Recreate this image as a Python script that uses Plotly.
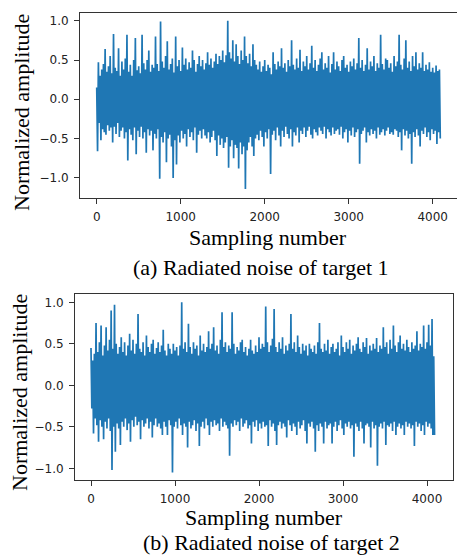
import plotly.graph_objects as go

# ---- data: alternating crests / troughs every 10 samples ----
STEP = 10  # sampling-number spacing between consecutive listed values

t1_crests = [
    0.15, 0.47, 0.30, 0.38, 0.45, 0.64, 0.35, 0.42, 0.55, 0.33,
    0.83, 0.40, 0.36, 0.65, 0.30, 0.48, 0.38, 0.52, 0.82, 0.35,
    0.44, 0.30, 0.50, 0.78, 0.37, 0.42, 0.33, 0.82, 0.46, 0.38,
    0.50, 0.62, 0.35, 0.44, 0.40, 0.80, 0.45, 0.36, 0.99, 0.48,
    0.40, 0.55, 0.74, 0.38, 0.45, 0.52, 0.34, 0.80, 0.42, 0.50,
    0.36, 0.66, 0.44, 0.52, 0.38, 0.47, 0.40, 0.62, 0.50, 0.35,
    0.45, 0.55, 0.42, 0.50, 0.38, 0.46, 0.60, 0.44, 0.52, 0.40,
    0.48, 0.58, 0.45, 0.55, 0.50, 0.62, 0.47, 0.56, 1.00, 0.60,
    0.52, 0.75, 0.48, 0.70, 0.55, 0.45, 0.62, 0.50, 0.80, 0.55,
    0.46, 0.58, 0.42, 0.70, 0.50, 0.44, 0.38, 0.48, 0.35, 0.42,
    0.50, 0.36, 0.44, 0.40, 0.32, 0.60, 0.45, 0.38, 0.48, 0.42,
    0.65, 0.40, 0.46, 0.35, 0.50, 0.42, 0.75, 0.44, 0.38, 0.52,
    0.40, 0.63, 0.36, 0.48, 0.42, 0.55, 0.38, 0.46, 0.68, 0.40,
    0.50, 0.36, 0.44, 0.52, 0.60, 0.38, 0.46, 0.40, 0.55, 0.34,
    0.45, 0.60, 0.38, 0.48, 0.42, 0.36, 0.50, 0.55, 0.40, 0.44,
    0.35, 0.48, 0.42, 0.52, 0.38, 0.46, 0.78, 0.40, 0.50, 0.36,
    0.44, 0.65, 0.38, 0.48, 0.42, 0.55, 0.36, 0.46, 0.40, 0.82,
    0.45, 0.38, 0.52, 0.50, 0.40, 0.46, 0.35, 0.55, 0.42, 0.48,
    0.82, 0.44, 0.38, 0.52, 0.75, 0.40, 0.48, 0.36, 0.55, 0.42,
    0.60, 0.38, 0.46, 0.40, 0.60, 0.36, 0.44, 0.38, 0.47, 0.35,
    0.40, 0.34, 0.43, 0.36, 0.38,
]
t1_troughs = [
    -0.66, -0.30, -0.52, -0.38, -0.42, -0.45, -0.33, -0.40, -0.36, -0.55,
    -0.35, -0.44, -0.30, -0.48, -0.40, -0.36, -0.50, -0.42, -0.78, -0.38,
    -0.45, -0.52, -0.36, -0.70, -0.40, -0.48, -0.35, -0.50, -0.42, -0.68,
    -0.38, -0.46, -0.40, -0.65, -0.44, -0.50, -0.38, -1.01, -0.48, -0.55,
    -0.42, -0.80, -0.50, -0.45, -0.60, -1.00, -0.52, -0.83, -0.46, -0.55,
    -0.40, -0.50, -0.44, -0.60, -0.38, -0.48, -0.42, -0.52, -0.36, -0.68,
    -0.45, -0.40, -0.50, -0.38, -0.46, -0.50, -0.42, -0.55, -0.48, -0.40,
    -0.52, -0.72, -0.46, -0.58, -0.50, -0.62, -0.55, -0.48, -0.87, -0.60,
    -0.52, -0.75, -0.58, -0.62, -0.88, -0.55, -0.70, -0.60, -1.14, -0.65,
    -0.55, -0.48, -0.60, -0.72, -0.50, -0.45, -0.52, -0.40, -0.48, -0.60,
    -0.42, -0.50, -0.38, -0.95, -0.45, -0.40, -0.52, -0.36, -0.46, -0.60,
    -0.40, -0.48, -0.35, -0.44, -0.50, -0.38, -0.60, -0.42, -0.46, -0.36,
    -0.55, -0.40, -0.44, -0.36, -0.48, -0.40, -0.35, -0.45, -0.50, -0.38,
    -0.42, -0.46, -0.36, -0.40, -0.44, -0.35, -0.50, -0.38, -0.42, -0.46,
    -0.36, -0.44, -0.40, -0.38, -0.45, -0.35, -0.50, -0.42, -0.38, -0.55,
    -0.40, -0.46, -0.36, -0.48, -0.42, -0.38, -0.82, -0.44, -0.40, -0.36,
    -0.55, -0.42, -0.46, -0.38, -0.44, -0.40, -0.50, -0.36, -0.45, -0.42,
    -0.38, -0.46, -0.40, -0.36, -0.44, -0.42, -0.45, -0.38, -0.40, -0.48,
    -0.42, -0.65, -0.38, -0.46, -0.40, -0.50, -0.44, -0.82, -0.42, -0.48,
    -0.38, -0.46, -0.60, -0.40, -0.44, -0.36, -0.48, -0.42, -0.52, -0.38,
    -0.44, -0.40, -0.57, -0.42, -0.50,
]
t2_crests = [
    0.45, 0.30, 0.38, 0.75, 0.40, 0.52, 0.72, 0.36, 0.48, 0.70,
    0.42, 0.55, 0.90, 0.44, 0.97, 0.50, 0.38, 0.46, 0.58, 0.40,
    0.52, 0.36, 0.48, 0.62, 0.42, 0.55, 0.38, 0.50, 0.86, 0.44,
    0.40, 0.52, 0.36, 0.60, 0.46, 0.40, 0.50, 0.55, 0.38, 0.45,
    0.52, 0.40, 0.48, 0.67, 0.42, 0.36, 0.50, 0.44, 0.38, 0.50,
    0.42, 0.46, 0.36, 0.48, 1.00, 0.44, 0.52, 0.40, 0.74, 0.46,
    0.38, 0.52, 0.44, 0.48, 0.36, 0.60, 0.42, 0.50, 0.40, 0.46,
    0.65, 0.44, 0.50, 0.70, 0.42, 0.48, 0.38, 0.55, 0.88, 0.46,
    0.52, 0.40, 0.48, 0.44, 0.88, 0.50, 0.38, 0.46, 0.42, 0.52,
    0.55, 0.40, 0.46, 0.36, 0.44, 0.55, 0.42, 0.38, 0.48, 0.40,
    0.58, 0.44, 0.50, 0.46, 0.95, 0.52, 0.40, 0.48, 0.56, 0.92,
    0.46, 0.40, 0.52, 0.44, 0.58, 0.38, 0.48, 0.42, 0.50, 0.86,
    0.44, 0.52, 0.40, 0.60, 0.46, 0.38, 0.50, 0.42, 0.48, 0.36,
    0.50, 0.44, 0.40, 0.48, 0.38, 0.52, 0.75, 0.44, 0.40, 0.50,
    0.42, 0.55, 0.38, 0.46, 0.50, 0.40, 0.44, 0.52, 0.36, 0.60,
    0.46, 0.40, 0.52, 0.44, 0.55, 0.38, 0.48, 0.42, 0.50, 0.58,
    0.44, 0.40, 0.52, 0.46, 0.57, 0.38, 0.48, 0.42, 0.50, 0.44,
    0.57, 0.40, 0.48, 0.44, 0.70, 0.46, 0.52, 0.38, 0.55, 0.44,
    0.72, 0.48, 0.40, 0.52, 0.60, 0.44, 0.50, 0.42, 0.55, 0.46,
    0.40, 0.52, 0.44, 0.48, 0.65, 0.42, 0.50, 0.46, 0.72, 0.44,
    0.52, 0.73, 0.48, 0.80, 0.35,
]
t2_troughs = [
    -0.28, -0.58, -0.40, -0.48, -0.68, -0.42, -0.50, -0.65, -0.44, -0.52,
    -0.40, -0.55, -1.02, -0.50, -0.80, -0.46, -0.52, -0.72, -0.44, -0.50,
    -0.40, -0.54, -0.46, -0.68, -0.42, -0.50, -0.38, -0.48, -0.44, -0.65,
    -0.42, -0.50, -0.46, -0.40, -0.52, -0.44, -0.63, -0.48, -0.40, -0.50,
    -0.46, -0.52, -0.60, -0.44, -0.50, -0.60, -0.42, -0.48, -1.05, -0.50,
    -0.44, -0.52, -0.40, -0.48, -0.60, -0.46, -0.50, -0.75, -0.44, -0.52,
    -0.48, -0.42, -0.55, -0.46, -0.73, -0.50, -0.44, -0.52, -0.40, -0.48,
    -0.60, -0.44, -0.50, -0.42, -0.48, -0.46, -0.55, -0.40, -0.50, -0.44,
    -0.48, -0.52, -0.85, -0.46, -0.50, -0.42, -0.48, -0.44, -0.55, -0.40,
    -0.50, -0.46, -0.42, -0.52, -0.48, -0.70, -0.44, -0.50, -0.42, -0.55,
    -0.46, -0.52, -0.44, -0.50, -0.48, -0.73, -0.42, -0.50, -0.46, -0.55,
    -0.72, -0.48, -0.44, -0.52, -0.46, -0.50, -0.63, -0.42, -0.48, -0.55,
    -0.46, -0.50, -0.60, -0.44, -0.52, -0.48, -0.42, -0.55, -0.70, -0.46,
    -0.50, -0.44, -0.52, -0.80, -0.48, -0.55, -0.46, -0.50, -0.70, -0.44,
    -0.52, -0.48, -0.46, -0.70, -0.50, -0.44, -0.55, -0.48, -0.42, -0.52,
    -0.60, -0.46, -0.50, -0.44, -0.52, -0.48, -0.86, -0.46, -0.50, -0.55,
    -0.44, -0.52, -0.70, -0.48, -0.46, -0.50, -0.75, -0.44, -0.52, -0.48,
    -0.97, -0.50, -0.46, -0.52, -0.44, -0.72, -0.48, -0.50, -0.46, -0.55,
    -0.44, -0.60, -0.50, -0.46, -0.52, -0.48, -0.60, -0.44, -0.50, -0.46,
    -0.52, -0.48, -0.73, -0.44, -0.50, -0.46, -0.55, -0.48, -0.60, -0.44,
    -0.50, -0.46, -0.52, -0.60, -0.60,
]

x_tick_vals = [0, 1000, 2000, 3000, 4000]
y_tick_vals = [-1.0, -0.5, 0.0, 0.5, 1.0]
y_tick_text = ["\u22121.0", "\u22120.5", "0.0", "0.5", "1.0"]
x_title = "Sampling number"
y_title = "Normalized amplitude"
captions = ["(a) Radiated noise of target 1", "(b) Radiated noise of target 2"]


def series(crests, troughs):
    xs, ys = [], []
    for i, (c, t) in enumerate(zip(crests, troughs)):
        xs += [2 * i * STEP, (2 * i + 1) * STEP]
        ys += [c, t]
    return xs, ys


W, H = 457, 555
BLUE = "#1f77b4"
AX = "#333333"
TXT = "#222222"

x1, y1 = series(t1_crests, t1_troughs)
x2, y2 = series(t2_crests, t2_troughs)

fig = go.Figure()
fig.add_trace(go.Scatter(x=x1, y=y1, mode="lines", line=dict(color=BLUE, width=1.7),
                         xaxis="x", yaxis="y", showlegend=False, hoverinfo="skip"))
fig.add_trace(go.Scatter(x=x2, y=y2, mode="lines", line=dict(color=BLUE, width=1.7),
                         xaxis="x2", yaxis="y2", showlegend=False, hoverinfo="skip"))


def px_x(p):
    return p / W


def px_y(p):
    return 1 - p / H


common_x = dict(tickvals=x_tick_vals, ticks="outside", ticklen=5, tickwidth=1, tickcolor=AX,
                showline=True, linecolor=AX, linewidth=1, mirror=True, showgrid=False,
                zeroline=False, tickfont=dict(family="DejaVu Sans", size=12, color=TXT),
                ticklabelstandoff=3)
common_y = dict(tickvals=y_tick_vals, ticktext=y_tick_text, ticks="outside", ticklen=5,
                tickwidth=1, tickcolor=AX, showline=True, linecolor=AX, linewidth=1,
                showgrid=False, zeroline=False,
                tickfont=dict(family="DejaVu Sans", size=12, color=TXT), ticklabelstandoff=3)

fig.update_layout(
    width=W, height=H, margin=dict(l=0, r=0, t=0, b=0),
    paper_bgcolor="white", plot_bgcolor="white",
    xaxis=dict(common_x, domain=[px_x(80), 1.0], range=[-199, 4289], anchor="y"),
    yaxis=dict(common_y, domain=[px_y(198), px_y(13)], range=[-1.256, 1.098], anchor="x",
               mirror=False),
    xaxis2=dict(common_x, domain=[px_x(75), px_x(453)], range=[-190.5, 4309.5], anchor="y2"),
    yaxis2=dict(common_y, domain=[px_y(480), px_y(294)], range=[-1.141, 1.100], anchor="x2",
                mirror=True),
)

serif = dict(family="Liberation Serif", size=22, color="black")
ann = [
    dict(text=x_title, x=px_x(268), y=px_y(237)),
    dict(text=captions[0], x=px_x(261), y=px_y(267)),
    dict(text=x_title, x=px_x(264), y=px_y(517)),
    dict(text=captions[1], x=px_x(271), y=px_y(542)),
    dict(text=y_title, x=px_x(21), y=px_y(113), textangle=-90),
    dict(text=y_title, x=px_x(19), y=px_y(393), textangle=-90),
]
for a in ann:
    fig.add_annotation(xref="paper", yref="paper", showarrow=False, xanchor="center",
                       yanchor="middle", font=serif, **a)

fig.write_html(
    "out.html",
    config={"displayModeBar": False},
    post_script="document.body.style.margin='0';document.body.style.overflow='hidden';",
)
